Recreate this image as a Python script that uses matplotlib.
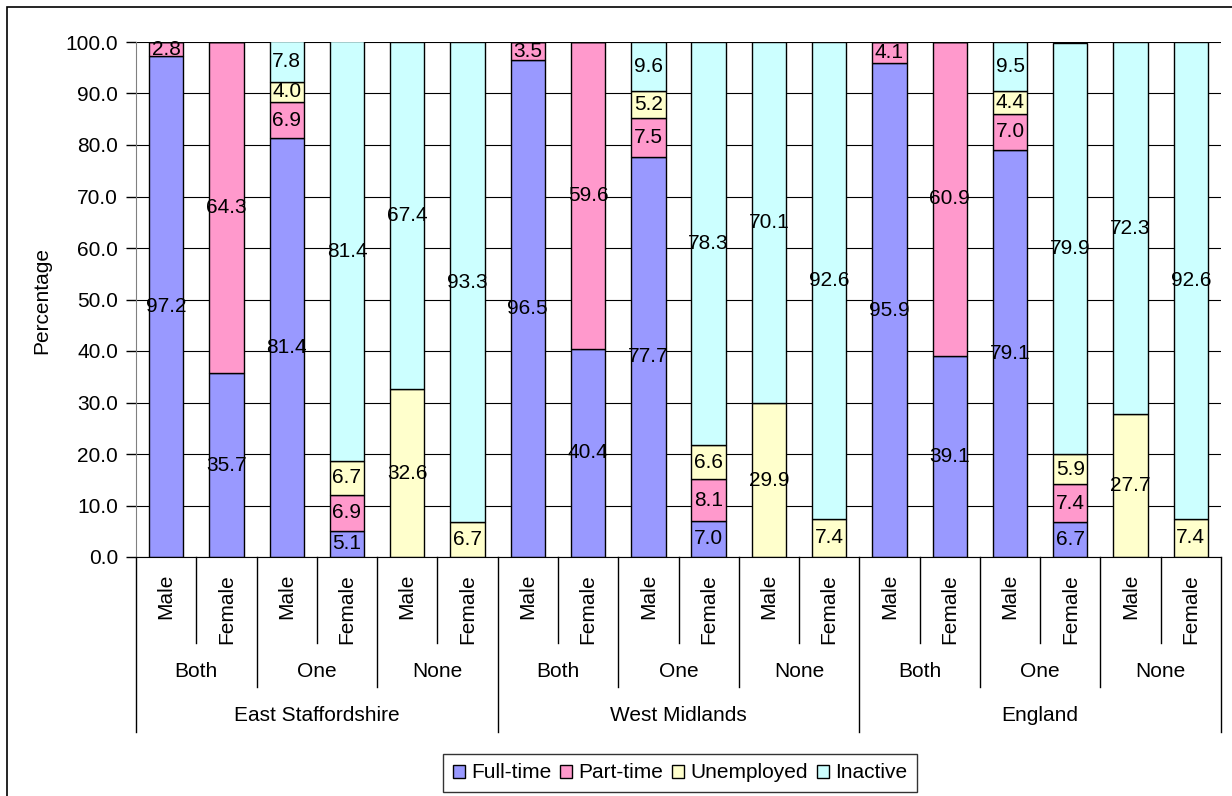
import matplotlib
matplotlib.use("Agg")
import matplotlib.pyplot as plt
import numpy as np
from matplotlib.patches import Rectangle

plt.rcParams['font.family'] = ['Liberation Sans', 'DejaVu Sans']
plt.rcParams['font.size'] = 15

regions = ["East Staffordshire", "West Midlands", "England"]
groups = ["Both", "One", "None"]
sexes = ["Male", "Female"]

fulltime = [97.2, 35.7, 81.4, 5.1, 0, 0, 96.5, 40.4, 77.7, 7.0, 0, 0, 95.9, 39.1, 79.1, 6.7, 0, 0]
parttime = [2.8, 64.3, 6.9, 6.9, 0, 0, 3.5, 59.6, 7.5, 8.1, 0, 0, 4.1, 60.9, 7.0, 7.4, 0, 0]
unemployed = [0, 0, 4.0, 6.7, 32.6, 6.7, 0, 0, 5.2, 6.6, 29.9, 7.4, 0, 0, 4.4, 5.9, 27.7, 7.4]
inactive = [0, 0, 7.8, 81.4, 67.4, 93.3, 0, 0, 9.6, 78.3, 70.1, 92.6, 0, 0, 9.5, 79.9, 72.3, 92.6]

series = [("Full-time", fulltime, "#9999FF"),
          ("Part-time", parttime, "#FF99CC"),
          ("Unemployed", unemployed, "#FFFFCC"),
          ("Inactive", inactive, "#CCFFFF")]

W, H = 1232, 796
fig = plt.figure(figsize=(W / 100, H / 100), dpi=100)
ax = fig.add_axes([136 / W, 1 - 557 / H, (1221 - 136) / W, (557 - 42) / H])

# outer chart border (left and top visible, rest cropped)
fig.patches.append(Rectangle((7 / W, -0.1), 1.2, 1 - 7 / H + 0.1, transform=fig.transFigure,
                             fill=False, edgecolor="black", linewidth=1.2))

x = np.arange(len(fulltime))
bottom = np.zeros(len(x))
handles = []
for name, vals, color in series:
    vals = np.array(vals, dtype=float)
    bars = ax.bar(x, vals, width=0.57, bottom=bottom, color=color, edgecolor="black",
                  linewidth=1.0, label=name, zorder=2)
    ax.bar_label(bars, labels=[f"{v:.1f}" if v > 0 else "" for v in vals],
                 label_type="center", fontsize=15)
    handles.append(bars)
    bottom += vals

ax.set_xlim(-0.5, len(x) - 0.5)
ax.set_ylim(0, 100)
ax.set_yticks(np.arange(0, 101, 10))
ax.set_yticklabels([f"{v:.1f}" for v in np.arange(0, 101, 10)])
ax.yaxis.grid(True, color="black", linewidth=0.8, zorder=0)
ax.set_axisbelow(True)
ax.tick_params(axis="y", direction="out", length=7, width=1, pad=6, color="black")
ax.set_xticks([])
for s in ["top", "right"]:
    ax.spines[s].set_visible(False)
ax.spines["left"].set_color("#808080")
ax.spines["bottom"].set_color("black")

fig.text(42 / W, 1 - 300 / H, "Percentage", rotation=90, ha="center", va="center")

# multi-level category axis
tr = ax.get_xaxis_transform()
for k in range(len(x) + 1):
    if k % 6 == 0:
        yb = -0.3398
    elif k % 2 == 0:
        yb = -0.2524
    else:
        yb = -0.167
    ax.plot([k - 0.5, k - 0.5], [0, yb], color="black", linewidth=1, transform=tr, clip_on=False)

for i in x:
    ax.text(i, -0.033, sexes[i % 2], rotation=90, ha="center", va="top", transform=tr)
for g in range(len(regions) * len(groups)):
    ax.text(g * 2 + 0.5, -0.2214, groups[g % 3], ha="center", va="center", transform=tr)
for r, name in enumerate(regions):
    ax.text(r * 6 + 2.5, -0.3087, name, ha="center", va="center", transform=tr)

leg = fig.legend(handles=handles, labels=[s[0] for s in series], loc="center",
                 bbox_to_anchor=(680 / W, 1 - 773 / H), ncol=4, frameon=True, fancybox=False,
                 handlelength=0.6, handleheight=0.6, handletextpad=0.3, columnspacing=0.4,
                 borderpad=0.45, fontsize=15)
leg.get_frame().set_edgecolor("black")
leg.get_frame().set_linewidth(1.0)

fig.savefig("out.png", dpi=100)
